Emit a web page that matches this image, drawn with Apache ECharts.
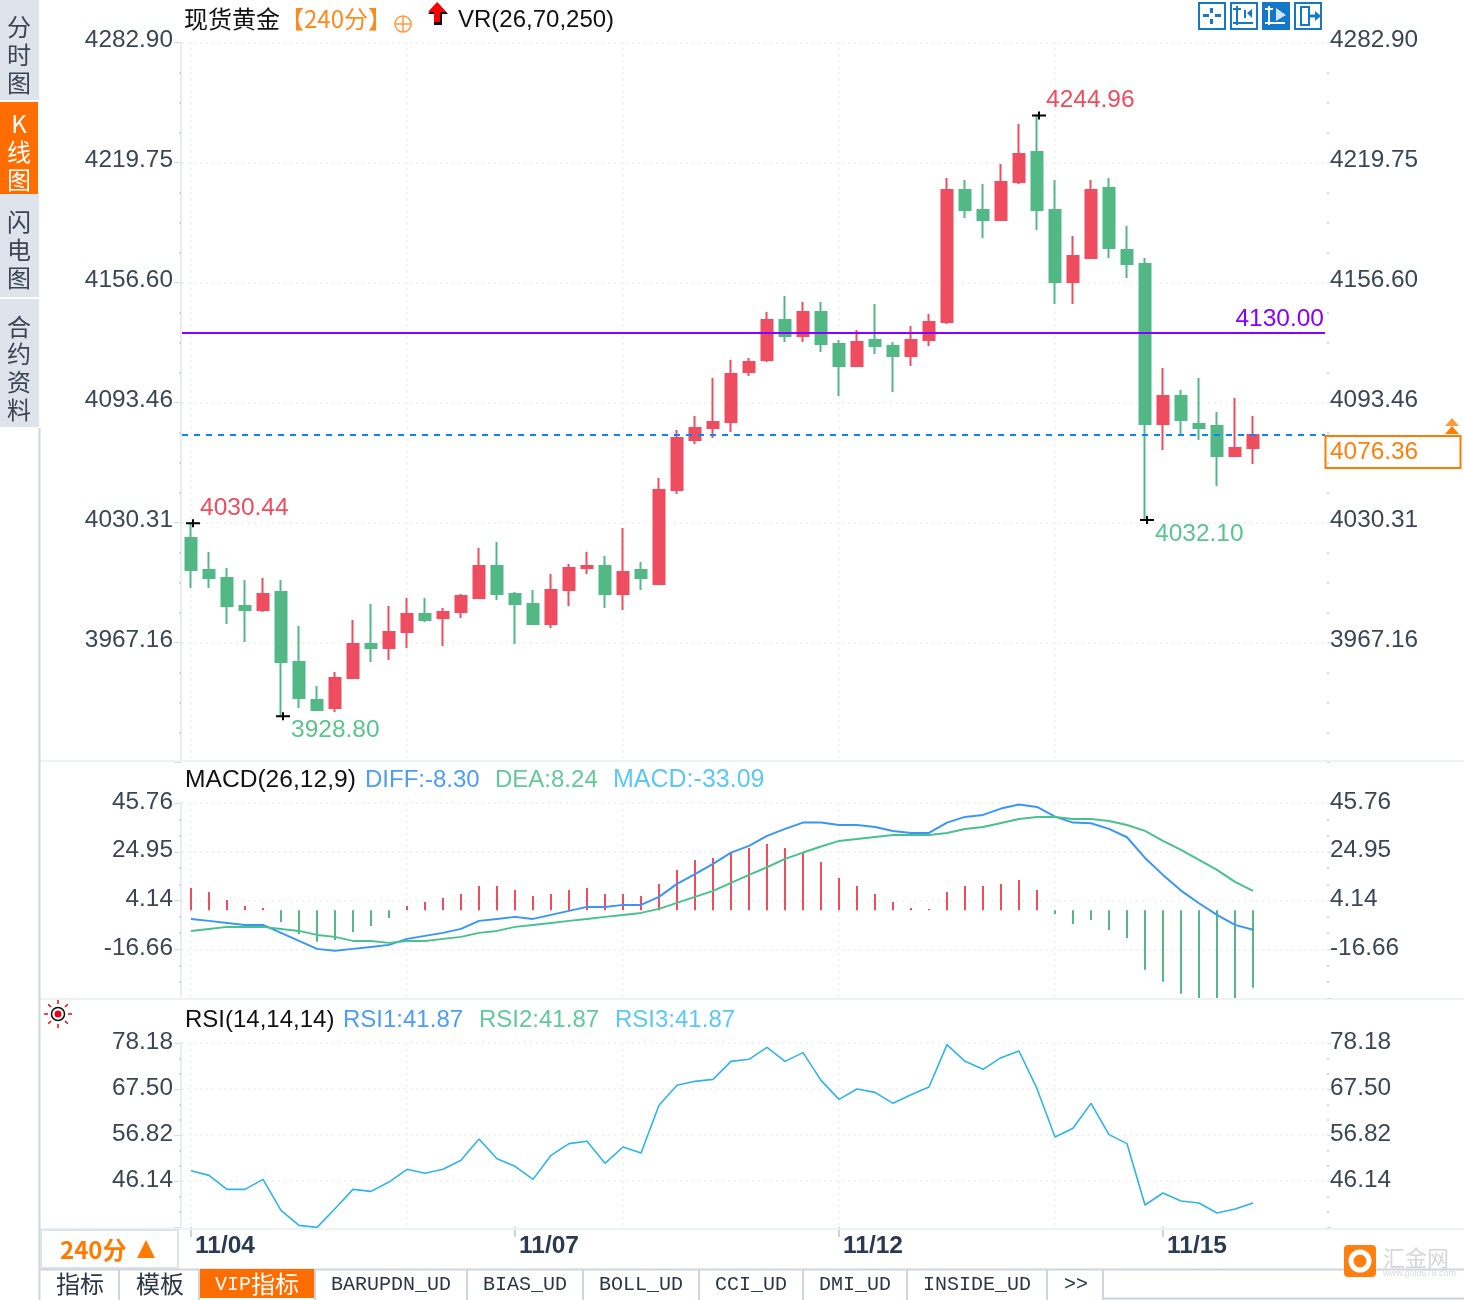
<!DOCTYPE html>
<html><head><meta charset="utf-8">
<style>html,body{margin:0;padding:0;background:#fff}#c{width:1464px;height:1300px}</style>
<script src="https://cdn.jsdelivr.net/npm/echarts@6/dist/echarts.min.js"></script>
</head><body><div id="c"></div>
<script>
const dayLabels = ['11/04','11/05','11/06','11/07','11/10','11/11','11/12','11/13','11/14','11/15'];
const priceTicks = ['3967.16','4030.31','4093.46','4156.60','4219.75','4282.90'];
const macdTicks = ['-16.66','4.14','24.95','45.76'];
const rsiTicks = ['46.14','56.82','67.50','78.18'];
// open, close, low, high
const candles = [
[4022.12,4005.29,3995.82,4030.44],[4005.29,4001.08,3995.82,4014.76],[4001.08,3986.34,3976.87,4006.34],[3986.34,3984.24,3967.40,4000.02],
[3984.24,3992.66,3983.18,4001.08],[3993.71,3956.87,3928.80,4000.02],[3956.87,3937.93,3932.67,3975.82],[3936.88,3931.61,3931.61,3944.24],
[3932.67,3948.45,3930.56,3951.61],[3948.45,3966.35,3948.45,3978.97],[3966.35,3964.24,3956.87,3987.40],[3964.24,3972.66,3957.93,3986.34],
[3972.66,3982.13,3964.24,3990.55],[3982.13,3978.97,3977.92,3990.55],[3980.03,3983.18,3965.30,3985.29],[3983.18,3991.61,3980.03,3992.66],
[3990.55,4007.39,3990.55,4016.86],[4007.39,3992.66,3989.50,4020.02],[3992.66,3987.40,3966.35,3993.71],[3987.40,3976.87,3976.87,3994.76],
[3976.87,3994.76,3974.76,4003.18],[3994.76,4006.34,3986.34,4008.44],[4006.34,4007.39,4003.18,4014.76],[4007.39,3992.66,3985.29,4012.65],
[3992.66,4004.23,3984.24,4027.39],[4005.29,4001.08,3994.76,4009.49],[3997.92,4047.38,3997.92,4053.70],[4047.38,4074.74,4045.28,4078.95],
[4073.69,4080.01,4071.59,4086.32],[4080.01,4083.16,4074.74,4106.32],[4083.16,4108.42,4077.90,4115.79],[4109.47,4114.74,4107.37,4116.84],
[4115.79,4136.84,4114.74,4141.05],[4136.84,4128.42,4125.26,4149.47],[4128.42,4141.05,4125.26,4146.31],[4141.05,4124.21,4120.00,4146.31],
[4124.21,4112.63,4096.85,4126.32],[4112.63,4125.26,4112.63,4131.58],[4126.32,4123.16,4118.95,4145.26],[4123.16,4117.90,4098.95,4125.26],
[4117.90,4126.32,4112.63,4133.68],[4126.32,4135.79,4123.16,4140.00],[4135.79,4205.25,4134.73,4211.56],[4205.25,4194.72,4190.51,4210.51],
[4194.72,4189.46,4179.99,4208.40],[4189.46,4209.46,4189.46,4218.93],[4209.46,4224.19,4208.40,4239.98],[4225.24,4194.72,4184.20,4244.96],
[4194.72,4156.84,4145.26,4210.51],[4156.84,4170.52,4145.26,4181.04],[4169.46,4205.25,4169.46,4210.51],[4206.30,4174.73,4169.46,4211.56],
[4173.67,4166.31,4158.94,4186.30],[4166.31,4082.12,4032.10,4169.46],[4082.12,4096.85,4068.44,4111.63],[4096.85,4084.22,4076.33,4100.01],
[4082.12,4080.01,4073.70,4106.36],[4081.06,4065.28,4049.49,4088.43],[4065.28,4069.49,4065.28,4095.80],[4069.49,4076.36,4061.07,4086.33]];
const macdHist = [9.53,7.82,4.41,1.85,1.00,-4.98,-10.10,-13.51,-12.66,-9.25,-6.69,-3.27,1.85,3.56,5.26,6.97,10.38,10.38,8.68,6.12,
6.97,8.68,9.53,6.97,6.97,6.12,11.24,17.21,21.48,22.33,24.89,26.60,28.31,26.60,24.89,20.63,13.80,10.38,6.97,3.56,
1.00,0.50,7.82,10.38,10.38,11.24,12.94,8.68,-1.56,-5.83,-4.13,-8.39,-11.81,-25.46,-30.58,-35.70,-38.0,-38.5,-38.0,-33.09];
const diff = [-3.70,-4.55,-5.41,-6.26,-6.26,-9.67,-13.09,-16.50,-17.35,-16.50,-15.65,-14.79,-12.23,-10.95,-9.67,-7.97,-4.55,-3.70,-2.84,-3.70,
-1.99,-0.28,1.42,1.42,2.28,2.28,5.69,11.24,15.36,19.77,24.60,27.45,31.72,34.71,37.41,37.41,36.41,36.41,35.56,33.85,
33.00,33.00,37.41,39.83,40.68,43.39,45.09,44.10,39.97,37.41,37.13,34.71,31.15,22.33,15.08,8.39,2.99,-1.99,-6.26,-8.30];
const dea = [-8.82,-7.97,-7.11,-7.11,-7.11,-7.97,-8.82,-10.53,-11.38,-13.09,-13.09,-13.94,-13.09,-13.09,-12.23,-11.38,-9.67,-8.82,-7.11,-6.26,
-5.41,-4.55,-3.70,-2.84,-1.99,-1.14,0.57,3.13,5.69,8.25,11.66,15.08,18.35,21.91,24.61,27.17,29.59,30.44,31.29,32.15,
32.15,32.15,33.00,34.71,35.56,37.27,38.98,39.83,39.83,38.98,38.98,38.12,36.41,33.85,29.59,25.75,21.48,17.21,12.09,8.24];
const rsi = [48.54,47.45,44.20,44.20,46.52,39.33,35.84,35.38,39.71,44.20,43.74,45.90,48.85,47.92,48.85,50.94,55.89,51.32,49.54,46.52,
52.10,54.81,55.35,50.24,54.03,52.64,63.71,68.35,69.28,69.74,73.92,74.39,77.17,73.92,75.94,69.51,65.10,67.50,66.72,64.17,
66.18,67.96,77.79,73.92,72.07,74.77,76.32,67.58,56.35,58.37,64.17,56.90,54.81,40.56,43.35,41.49,41.03,38.71,39.63,41.03];
const lineAlert = 4130.00, lastPrice = 4076.36;
const extremes = [
 {i:0, v:4030.44, t:'4030.44', color:'#ee4d5f', pos:[14,-23]},
 {i:5, v:3928.80, t:'3928.80', color:'#5ac48f', pos:[15,5]},
 {i:47,v:4244.96, t:'4244.96', color:'#ee4d5f', pos:[14,-24]},
 {i:53,v:4032.10, t:'4032.10', color:'#5ac48f', pos:[15,6]}];
const categories = dayLabels.flatMap(d => Array(6).fill(d)).concat(['','','','']);
const axisDays = [0,18,36,54];

const RED='#ee4d5f', GREEN='#52b986', TXT='#3b4655', LINE='#eef2f5', ORANGE='#ff7a00';
const LATIN='"Liberation Sans"', CJK='"Noto Sans CJK SC"', MONO='"Liberation Mono"';
const GL={left:182,width:1152};
const lookup=(ticks,min,itv)=>v=>{const k=Math.round((v-min)/itv)-1;return ticks[k]||'';};

function xAxis(grid,last){return {type:'category',gridIndex:grid,data:categories,boundaryGap:true,
  axisLine:{show:false},
  axisTick:{show:last,alignWithLabel:true,length:10,lineStyle:{color:'#ccd2d8',width:2},interval:(i)=>axisDays.includes(i)},
  axisLabel:{show:last,interval:(i)=>axisDays.includes(i),align:'left',margin:7,padding:[0,0,0,4],
     color:'#2b3a50',fontFamily:LATIN,fontWeight:'bold',fontSize:24.5},
  splitLine:{show:true,interval:(i)=>i%12===0&&i<=48,alignWithLabel:true,lineStyle:{color:'#f0f2f4',type:[2,4],width:2}}};}
function yAxis(grid,min,max,itv,ticks,right,minor,lh){return {type:'value',gridIndex:grid,min,max,interval:itv,position:right?'right':'left',
  offset:right?-7:1,z:right?10:0,scale:true,
  axisLine:{show:!right,lineStyle:{color:'#e8eef2',width:2}},
  axisTick:{show:true,length:right?4:7,lineStyle:{color:'#d8dde3',width:1}},
  minorTick:{show:true,splitNumber:minor,length:2,lineStyle:{color:'#d5d9de',width:2}},
  minorSplitLine:{show:false},
  axisLabel:{show:true,margin:right?3:8,showMinLabel:false,color:TXT,fontFamily:LATIN,fontSize:24.4,verticalAlign:'bottom',lineHeight:lh,formatter:lookup(ticks,min,itv)},
  splitLine:{show:!right,showMinLine:false,lineStyle:{color:'#f0f2f4',type:[2,4],width:2}}};}

const PRICE_MIN=3904.012,PRICE_ITV=63.148,PRICE_MAX=4282.9;
const MACD_MIN=-37.47,MACD_ITV=20.81,MACD_MAX=45.77;
const RSI_MIN=35.46,RSI_ITV=10.68,RSI_MAX=78.18;

// interface furniture
const g=[];
const T=(text,x,y,fill,font,align)=>g.push({type:'text',z:20,x,y,style:{text,fill,font,align:align||'left',verticalAlign:'middle'}});
const R=(x,y,w,h,fill,stroke,lw,z,r)=>g.push({type:'rect',z:z||20,shape:{x,y,width:w,height:h,r:r||0},style:{fill:fill||'none',stroke:stroke||'none',lineWidth:lw||0}});
const L=(x1,y1,x2,y2,stroke,lw,z)=>g.push({type:'line',z:z||20,shape:{x1,y1,x2,y2},style:{stroke,lineWidth:lw||1}});
const f24=`24px ${LATIN}`, c24=`24px ${CJK}`;

// cover of the overhang right of the plot
R(1325,30,9,1195,'#fff',null,0,6);
// left tabs
R(0,0,39,100,'#dfe3ec'); R(0,102,38,92,'#ff6d00'); R(0,194,39,103,'#dfe3ec'); R(0,299,39,128,'#dfe3ec');
L(39.5,428,39.5,1300,'#ced5dd',2);
const tab=(chars,ys,c)=>chars.forEach((ch,i)=>T(ch,19,ys[i],c,`24px ${CJK}`,'center'));
tab(['分','时','图'],[27,55,83],'#3a4452');
tab(['K','线','图'],[124,152,180],'#fff');
tab(['闪','电','图'],[222,250,278],'#3a4452');
tab(['合','约','资','料'],[327,354,382,410],'#3a4452');
// dividers
L(40,761,1464,761,LINE,2,7); L(40,999,1464,999,LINE,2,7); L(40,1229,1464,1229,LINE,2,7);
// header
T('现货黄金',184,19,'#111',c24);
T('【240分】',280,19,'#ff8a1c',c24);
g.push({type:'circle',z:20,shape:{cx:403,cy:24,r:8},style:{fill:'none',stroke:'#ff9a3c',lineWidth:1.5}});
L(395,24,411,24,'#ff9a3c',1.5); L(403,16,403,32,'#ff9a3c',1.5);
g.push({type:'polygon',z:19,shape:{points:[[438,3],[448,14],[442,14],[442,25],[434,25],[434,14],[428,14]]},style:{fill:'#111'}});
g.push({type:'polygon',z:20,shape:{points:[[437,2],[446,12],[440,12],[440,22],[434,22],[434,12],[428,12]]},style:{fill:'#f00'}});
T('VR(26,70,250)',458,20,'#111',f24);
// toolbar buttons
const B='#1378c8';
[1198,1230,1294].forEach(x=>R(x+1,3,26,26,'#fff',B,2));
R(1262,2,28,28,B);
R(1210,8,3,5,B);R(1210,19,3,5,B);R(1203,14,6,3,B);R(1215,14,6,3,B);
L(1237,6,1237,25,B,2);L(1233,23,1253,23,B,2);L(1233,9,1241,9,B,2);R(1244,10,2,8,B);g.push({type:'polygon',z:20,shape:{points:[[1247,13],[1252,9],[1252,18]]},style:{fill:B}});
L(1269,6,1269,25,'#fff',2);L(1265,23,1285,23,'#fff',2);L(1265,9,1273,9,'#fff',2);g.push({type:'polygon',z:20,shape:{points:[[1276,8],[1286,15],[1276,21]]},style:{fill:'#cfe4f5'}});
R(1301,7,8,18,'#fff',B,2);L(1309,16,1316,16,B,3);g.push({type:'polygon',z:20,shape:{points:[[1315,11],[1321,16],[1315,21]]},style:{fill:B}});
// last-price box
R(1325.5,436,135,32,'#fff',ORANGE,2,8);
T(lastPrice.toFixed(2),1330,452,'#ff7f0a',`24.4px ${LATIN}`);
g.push({type:'polygon',z:20,shape:{points:[[1452,418],[1459,426],[1445,426]]},style:{fill:'#ff9a3c'}});
g.push({type:'polygon',z:20,shape:{points:[[1452,426],[1459,434],[1445,434]]},style:{fill:ORANGE}});
// indicator captions
T('MACD(26,12,9)',185,780,'#111',`24.6px ${LATIN}`);T('DIFF:-8.30',365,780,'#4d9df8',f24);T('DEA:8.24',495,780,'#60ca98',f24);T('MACD:-33.09',613,780,'#5ac8f5',`25px ${LATIN}`);
T('RSI(14,14,14)',185,1020,'#111',f24);T('RSI1:41.87',343,1020,'#4d9df8',f24);T('RSI2:41.87',479,1020,'#60ca98',f24);T('RSI3:41.87',615,1020,'#5ac8f5',f24);
// sun icon
g.push({type:'circle',z:20,shape:{cx:58,cy:1014,r:6.5},style:{fill:'#fff',stroke:'#111',lineWidth:1.5}});
g.push({type:'circle',z:20,shape:{cx:58,cy:1014,r:3.5},style:{fill:'#e8001c'}});
[[0,-1],[0,1],[1,0],[-1,0],[.7,.7],[-.7,.7],[.7,-.7],[-.7,-.7]].forEach(d=>L(58+d[0]*10,1014+d[1]*10,58+d[0]*14,1014+d[1]*14,'#f00',1.5));
// bottom period box
R(41,1230,137,38,'#fff','#dde3e8',2);
T('240分',60,1250,ORANGE,`bold 24px ${CJK}`);
g.push({type:'polygon',z:20,shape:{points:[[146,1240],[155,1258],[137,1258]]},style:{fill:ORANGE}});
// bottom tabs
L(40,1269.5,1464,1269.5,'#ced5dd',2);
L(1104,1298.5,1464,1298.5,'#ced5dd',2);
R(200,1269,114,29,'#ff6d00');
[119,199,315,467,583,699,803,907,1047,1103].forEach(x=>L(x,1270,x,1300,'#ced5dd',2));
T('指标',56,1284,'#2c3545',c24);T('模板',136,1284,'#2c3545',c24);
T('VIP',215,1285,'#fff',`20px ${MONO}`);T('指标',251,1284,'#fff',c24);
[['BARUPDN_UD',331],['BIAS_UD',483],['BOLL_UD',599],['CCI_UD',715],['DMI_UD',819],['INSIDE_UD',923],['>>',1064]].forEach(a=>T(a[0],a[1],1285,'#2c3545',`20px ${MONO}`));
// watermark
R(1344,1245,32,32,'#ff7f10',null,0,20,4);
g.push({type:'circle',z:21,shape:{cx:1360,cy:1261,r:9},style:{fill:'#ff7f10',stroke:'#fff',lineWidth:5}});
T('汇金网',1383,1258,'#d6d6d6',`22px ${CJK}`);
T('www.gold678.com',1383,1274,'#dcdcdc',`9px ${LATIN}`);

const cross='path://M0 3H6V0H8V3H14V5H8V8H6V5H0Z';
const option={animation:false,backgroundColor:'#fff',
 textStyle:{fontFamily:LATIN},
 grid:[{left:GL.left,width:GL.width,top:42.45,height:720},{left:GL.left,width:GL.width,top:803,height:195},{left:GL.left,width:GL.width,top:1043,height:184}],
 xAxis:[xAxis(0,false),xAxis(1,false),xAxis(2,true)],
 yAxis:[yAxis(0,PRICE_MIN,PRICE_MAX,PRICE_ITV,priceTicks,false,4,4),yAxis(0,PRICE_MIN,PRICE_MAX,PRICE_ITV,priceTicks,true,4,4),
        yAxis(1,MACD_MIN,MACD_MAX,MACD_ITV,macdTicks,false,3,2),yAxis(1,MACD_MIN,MACD_MAX,MACD_ITV,macdTicks,true,3,2),
        yAxis(2,RSI_MIN,RSI_MAX,RSI_ITV,rsiTicks,false,3,2),yAxis(2,RSI_MIN,RSI_MAX,RSI_ITV,rsiTicks,true,3,2)],
 series:[
  {type:'candlestick',xAxisIndex:0,yAxisIndex:0,data:candles,barWidth:12,
   itemStyle:{color:RED,color0:GREEN,borderColor:RED,borderColor0:GREEN,borderWidth:2},
   markPoint:{animation:false,silent:true,symbol:cross,symbolSize:[14,8],symbolOffset:[2,1],itemStyle:{color:'#000'},
     data:extremes.map(e=>({coord:[e.i,e.v],value:e.v,
       label:{show:true,formatter:e.t,position:e.pos,color:e.color,fontFamily:LATIN,fontSize:24.5,verticalAlign:'top',align:'left'}}))},
   markLine:{animation:false,silent:true,symbol:'none',data:[
     {yAxis:lineAlert,lineStyle:{color:'#8a00ff',width:2,type:'solid'},
      label:{show:true,position:'insideEndTop',distance:1,offset:[-9,0],formatter:lineAlert.toFixed(2),color:'#8a00ff',fontFamily:LATIN,fontSize:24.5}},
     {yAxis:lastPrice,lineStyle:{color:'#0a84ff',width:2,type:[6,6]},label:{show:false}}]}},
  {type:'bar',xAxisIndex:1,yAxisIndex:2,barWidth:2,data:macdHist.map(v=>({value:v,itemStyle:{color:v>=0?RED:GREEN}}))},
  {type:'line',xAxisIndex:1,yAxisIndex:2,data:diff,showSymbol:false,lineStyle:{color:'#3a96f5',width:2}},
  {type:'line',xAxisIndex:1,yAxisIndex:2,data:dea,showSymbol:false,lineStyle:{color:'#47c28d',width:2}},
  {type:'line',xAxisIndex:2,yAxisIndex:4,data:rsi,showSymbol:false,clip:false,lineStyle:{color:'#2fb4e8',width:1.6}}
 ],
 graphic:g};
echarts.init(document.getElementById('c')).setOption(option);
</script></body></html>
